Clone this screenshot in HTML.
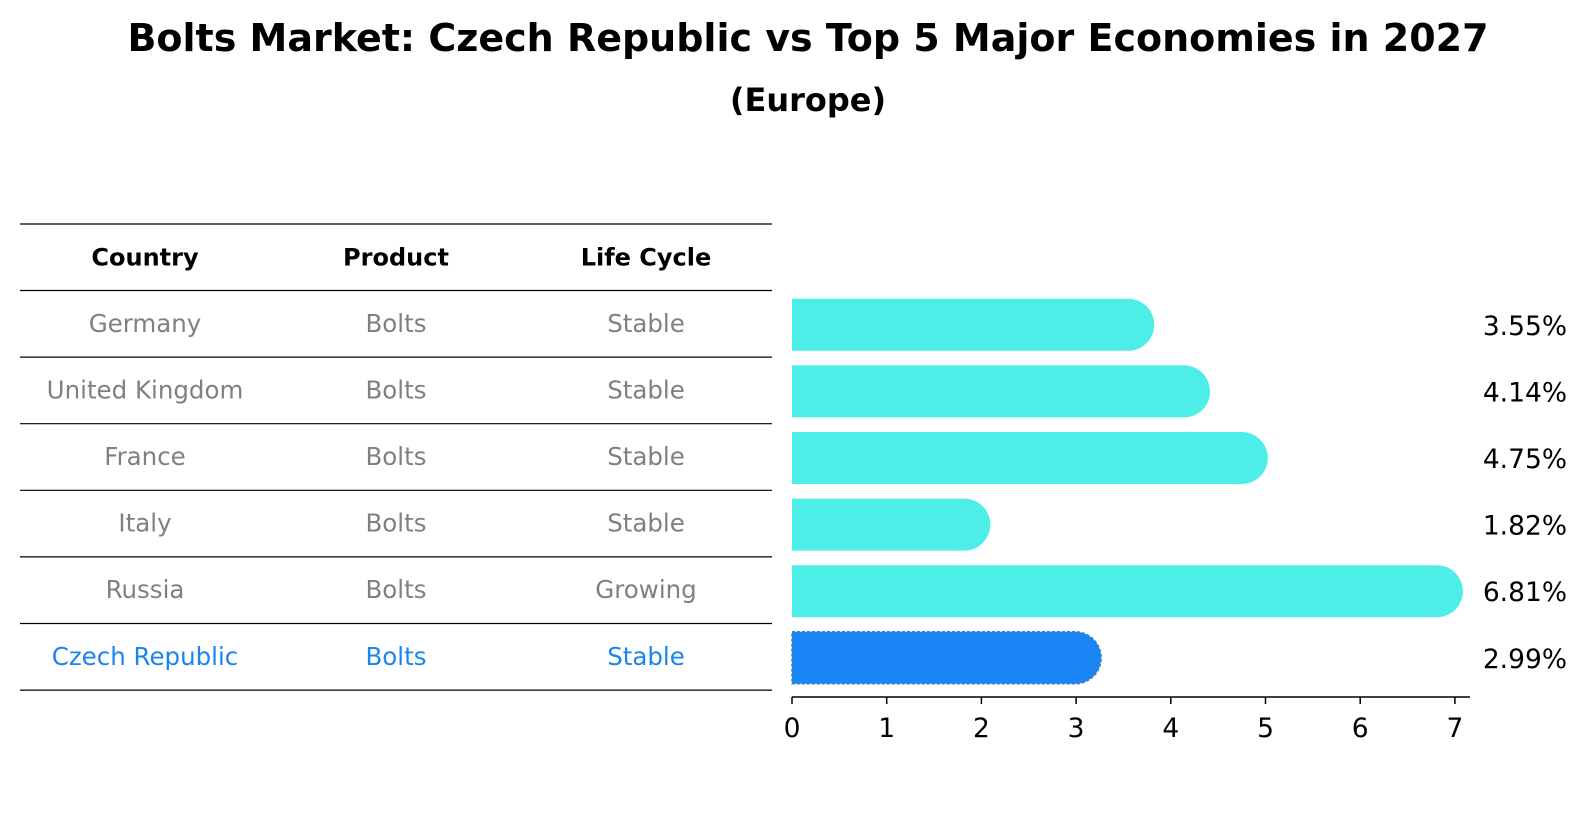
<!DOCTYPE html>
<html><head><meta charset="utf-8"><style>
body{margin:0;background:#fff;font-family:"Liberation Sans","DejaVu Sans",sans-serif;}
#wrap{position:relative;width:1586px;height:823px;}
</style></head><body>
<div id="wrap">
<svg id="svg" width="1586" height="823" xmlns="http://www.w3.org/2000/svg" font-family="DejaVu Sans, Liberation Sans, sans-serif">
<text x="808" y="51" text-anchor="middle" font-size="38" font-weight="bold">Bolts Market: Czech Republic vs Top 5 Major Economies in 2027</text>
<text x="808" y="111" text-anchor="middle" font-size="32" font-weight="bold">(Europe)</text>
<g id="table"></g>
<g id="bars"></g>
</svg>
</div>
<script>
const countries=["Germany","United Kingdom","France","Italy","Russia","Czech Republic"];
const products=["Bolts","Bolts","Bolts","Bolts","Bolts","Bolts"];
const lifecycles=["Stable","Stable","Stable","Stable","Growing","Stable"];
const values=[3.55,4.14,4.75,1.82,6.81,2.99];
const valueLabels=["3.55%","4.14%","4.75%","1.82%","6.81%","2.99%"];
const ticks=[0,1,2,3,4,5,6,7];

const NS="http://www.w3.org/2000/svg";
const svg=document.getElementById('svg');
const tg=document.getElementById('table'), bg=document.getElementById('bars');
function mk(t,a,p){const e=document.createElementNS(NS,t);for(const k in a)e.setAttribute(k,a[k]);p.appendChild(e);return e;}
const x0=792,xs=94.7;
const X=v=>x0+v*xs;
const rowTop=290.5,rowH=66.6,headTop=224;
const rowC=i=>rowTop+rowH*(i+0.5);
const colX=[145,396,646];
const lineYs=[headTop,rowTop];for(let i=1;i<=countries.length;i++)lineYs.push(rowTop+rowH*i);
lineYs.forEach((y,i)=>{const l=mk('line',{x1:20,x2:772,y1:y,y2:y,stroke:'#000','stroke-width':1.2},tg);

});
["Country","Product","Life Cycle"].forEach((h,j)=>{const t=mk('text',{x:colX[j],y:(headTop+rowTop)/2+8,'text-anchor':'middle','font-size':24,'font-weight':'bold'},tg);t.textContent=h;

});
countries.forEach((c,i)=>{const last=i===countries.length-1;const col=last?'#1a85f0':'#808080';
[c,products[i],lifecycles[i]].forEach((v,j)=>{const t=mk('text',{x:colX[j],y:rowC(i)+8,'text-anchor':'middle','font-size':24.5,fill:col},tg);t.textContent=v;

});});
const bh=52,r=26;
values.forEach((v,i)=>{const last=i===values.length-1;const cy=rowC(i)+1;const y=cy-bh/2;const xe=X(v);
const d=`M${x0},${y} H${xe} A${r},${r} 0 0 1 ${xe},${y+bh} H${x0} Z`;
const p=mk('path',{d,fill:last?'#1a85f5':'#4deee8',stroke:last?'#3a7fd0':'none','stroke-width':last?1.5:0,'stroke-dasharray':last?'3,2':''},bg);


const t=mk('text',{x:1567,y:cy+10,'text-anchor':'end','font-size':26.5},bg);t.textContent=valueLabels[i];

});
const ay=697;
const ax=mk('line',{x1:x0,x2:1470,y1:ay,y2:ay,stroke:'#000','stroke-width':1.5},bg);


ticks.forEach(tv=>{const l=mk('line',{x1:X(tv),x2:X(tv),y1:ay,y2:ay+7,stroke:'#000','stroke-width':1.5},bg);


const t=mk('text',{x:X(tv),y:ay+40,'text-anchor':'middle','font-size':26.5},bg);t.textContent=tv;

});
</script>
</body></html>
